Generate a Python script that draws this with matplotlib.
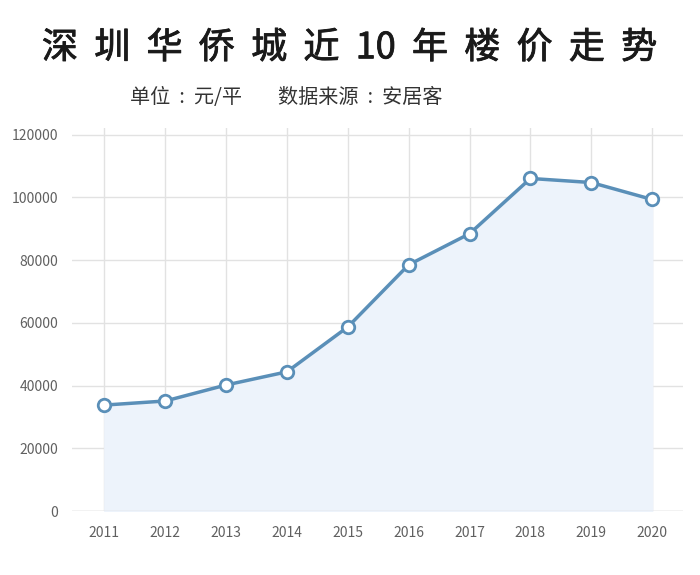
import matplotlib
matplotlib.use('Agg')
from matplotlib import pyplot as plt
from matplotlib import patheffects

### Data ###

years = [2011, 2012, 2013, 2014, 2015, 2016, 2017, 2018, 2019, 2020]
prices = [33800, 35100, 40200, 44400, 58700, 78500, 88400, 106000, 104700, 99300]
y_ticks = [0, 20000, 40000, 60000, 80000, 100000, 120000]

title = '  '.join(['深', '圳', '华', '侨', '城', '近', '10', '年', '楼', '价', '走', '势'])
subtitle = '单位  :  元/平        数据来源  :  安居客'

### Plot ###

plt.rcParams['font.family'] = ['Noto Sans CJK SC', 'DejaVu Sans']

fig = plt.figure(figsize=(7, 5.75), dpi=100)
ax = fig.add_axes([0.103, 0.111, 0.873, 0.666])

line_color = '#5a8fb8'

# Light fill under the curve
ax.fill_between(years, prices, 0, color='#edf3fb', zorder=1)
ax.plot(years, prices, color=line_color, linewidth=2.5, marker='o', markersize=9,
        markerfacecolor='white', markeredgecolor=line_color, markeredgewidth=2, zorder=3)

ax.set_xlim(2010.47, 2020.51)
ax.set_ylim(0, 122000)
ax.set_xticks(years)
ax.set_yticks(y_ticks)
ax.tick_params(length=0, labelsize=10, colors='#606060', pad=10)
ax.tick_params(axis='x', pad=11)

ax.grid(True, color='#e2e2e2', linewidth=1, zorder=0)
ax.set_axisbelow(True)
for spine in ax.spines.values():
    spine.set_visible(False)
ax.axhline(0, color='#d8d8d8', linewidth=1, zorder=2)

# Titles (regular weight, thickened a little with a stroke)
title_text = fig.text(0.5, 0.916, title, ha='center', va='center', fontsize=26,
                      fontweight='normal', color='#1a1a1a')
title_text.set_path_effects([patheffects.withStroke(linewidth=0.6, foreground='#1a1a1a')])
fig.text(0.186, 0.831, subtitle, ha='left', va='center', fontsize=14.5, color='#333333')

fig.savefig('out.png', dpi=100, facecolor='white')
